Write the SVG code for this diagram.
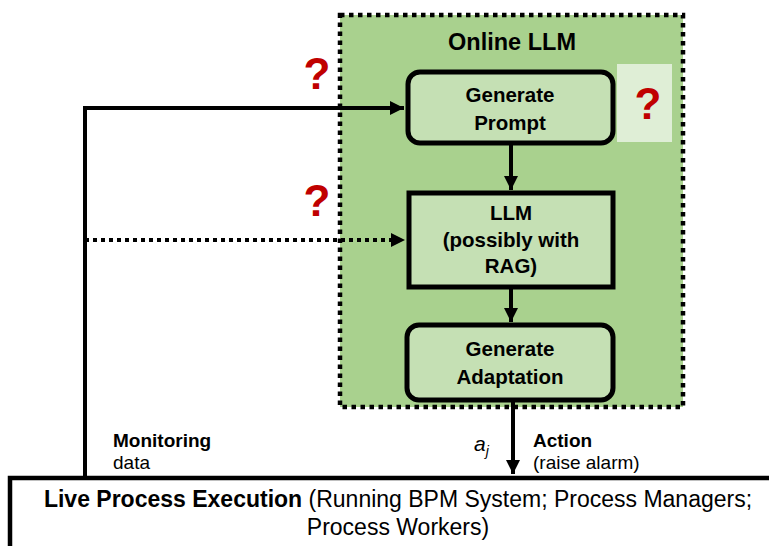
<svg xmlns="http://www.w3.org/2000/svg" width="769" height="546" viewBox="0 0 769 546">
<style>
text{font-family:"Liberation Sans",Arial,sans-serif;fill:#000}
.b{font-weight:bold}
.box{fill:#c5e0b4;stroke:#000;stroke-width:5}
.ln{stroke:#000;stroke-width:4;fill:none}
.q{fill:#c00000;font-weight:bold;font-size:44px}
.t{font-weight:bold;font-size:20.5px;text-anchor:middle}
.s{font-size:19px}
</style>
<defs>
<marker id="ah" viewBox="0 0 10 10" refX="10" refY="5" markerWidth="3.5" markerHeight="3.5" orient="auto" markerUnits="strokeWidth">
<path d="M0,0 L10,5 L0,10 z" fill="#000"/>
</marker>
</defs>
<rect width="769" height="546" fill="#fff"/>
<g id="online-llm">
<rect x="340" y="15" width="343" height="392" fill="#a9d18e" stroke="#000" stroke-width="4.5" stroke-dasharray="4.5,4.5"/>
<text x="512" y="50" text-anchor="middle" class="b" font-size="23.5">Online LLM</text>
</g>
<g id="question-box">
<rect x="617" y="64" width="55" height="78" fill="#dfeed6"/>
<text x="648" y="119" text-anchor="middle" class="q">?</text>
</g>
<g id="q1"><text x="317" y="89" text-anchor="middle" class="q">?</text></g>
<g id="q2"><text x="317" y="216" text-anchor="middle" class="q">?</text></g>
<g id="generate-prompt">
<rect class="box" x="408" y="72" width="205" height="71" rx="12"/>
<text x="510" y="102" class="t">Generate</text>
<text x="510" y="130" class="t">Prompt</text>
</g>
<g id="llm">
<rect class="box" x="409" y="193" width="204" height="94"/>
<text x="511" y="220" class="t">LLM</text>
<text x="511" y="247" class="t">(possibly with</text>
<text x="511" y="273" class="t">RAG)</text>
</g>
<g id="generate-adaptation">
<rect class="box" x="407" y="325" width="206" height="75" rx="12"/>
<text x="510" y="356" class="t">Generate</text>
<text x="510" y="384" class="t">Adaptation</text>
</g>
<g id="live-process">
<rect x="10" y="478" width="770" height="80" fill="#fff" stroke="#000" stroke-width="4.5"/>
<text x="398" y="507" text-anchor="middle" font-size="23"><tspan class="b">Live Process Execution</tspan> (Running BPM System; Process Managers;</text>
<text x="398" y="535" text-anchor="middle" font-size="23">Process Workers)</text>
</g>
<g id="connectors">
<polyline class="ln" points="85,476 85,108 404,108" marker-end="url(#ah)"/>
<line class="ln" x1="85" y1="240" x2="405" y2="240" stroke-dasharray="4,4" marker-end="url(#ah)"/>
<line class="ln" x1="511" y1="145" x2="511" y2="190" marker-end="url(#ah)"/>
<line class="ln" x1="511" y1="289" x2="511" y2="322" marker-end="url(#ah)"/>
<line class="ln" x1="513" y1="402" x2="513" y2="474" marker-end="url(#ah)"/>
</g>
<g id="labels">
<text x="113" y="447" class="b s">Monitoring</text>
<text x="113" y="469" class="s">data</text>
<text x="533" y="447" class="b s">Action</text>
<text x="533" y="469" class="s">(raise alarm)</text>
<text x="474" y="451" font-size="21" font-style="italic">a<tspan font-size="14" dy="5">j</tspan></text>
</g>
</svg>
